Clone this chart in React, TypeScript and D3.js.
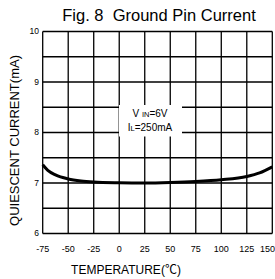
import React from "react";
import * as d3 from "d3";

// temperature (°C) vs quiescent current (mA)
const temps = [-75, -70, -62.5, -50, -37.5, -25, 0, 25, 50, 75, 100, 125, 137.5, 150];
const current = [7.36, 7.25, 7.16, 7.08, 7.04, 7.02, 7.005, 7.0, 7.01, 7.03, 7.065, 7.13, 7.2, 7.32];

const xTicks = [-75, -50, -25, 0, 25, 50, 75, 100, 125, 150];
const yTicks = [6, 7, 8, 9, 10];
const yGrid = [6, 6.5, 7, 7.5, 8, 8.5, 9, 9.5, 10];

const font = "'Liberation Sans', Arial, sans-serif";

function App() {
  const w = 275,
    h = 279,
    margin = { top: 31.5, left: 42.7, right: 2.7, bottom: 45.5 };

  const x = d3.scaleLinear().domain([-75, 150]).range([margin.left, w - margin.right]);
  const y = d3.scaleLinear().domain([6, 10]).range([h - margin.bottom, margin.top]);

  const data = temps.map((t, i) => ({ t, v: current[i] }));
  const line = d3
    .line<{ t: number; v: number }>()
    .x(d => x(d.t))
    .y(d => y(d.v))
    .curve(d3.curveMonotoneX);

  const vLines = xTicks.map((d, i) => (
    <line key={i} x1={x(d)} x2={x(d)} y1={y(6)} y2={y(10)} stroke="#000" strokeWidth={1.3} />
  ));

  const hLines = yGrid.map((d, i) => (
    <line key={i} x1={x(-75)} x2={x(150)} y1={y(d)} y2={y(d)} stroke="#000" strokeWidth={1.3} />
  ));

  const xLabels = xTicks.map((d, i) => {
    const last = i === xTicks.length - 1;
    return (
      <text key={i} x={last ? 275 : x(d)} y={252} textAnchor={last ? "end" : "middle"} fontSize={9}>
        {d}
      </text>
    );
  });

  const yLabels = yTicks.map((d, i) => (
    <text key={i} x={39} y={y(d)} dy="0.35em" textAnchor="end" fontSize={8.5}>
      {d}
    </text>
  ));

  return (
    <svg
      width={w}
      height={h}
      style={{ position: "absolute", left: 0, top: 0, background: "#fff" }}
      fontFamily={font}
    >
      <text x={159} y={21} textAnchor="middle" fontSize={16.5} style={{ whiteSpace: "pre" }}>
        {"Fig. 8  Ground Pin Current"}
      </text>
      {hLines}
      {vLines}
      <rect x={119} y={105} width={63} height={31.5} fill="#fff" />
      <text x={150} y={117} textAnchor="middle" fontSize={10} style={{ whiteSpace: "pre" }}>
        {"V "}<tspan fontSize={7.5}>IN</tspan>=6V
      </text>
      <text x={150} y={131} textAnchor="middle" fontSize={10}>
        I<tspan fontSize={7.5}>L</tspan>=250mA
      </text>
      <path d={line(data) || ""} fill="none" stroke="#000" strokeWidth={3} />
      {xLabels}
      {yLabels}
      <text x={126} y={274} textAnchor="middle" fontSize={12}>
        TEMPERATURE(<tspan fontFamily="'Noto Sans CJK SC'">℃</tspan>)
      </text>
      <text
        transform={`translate(19,${(y(6) + y(10)) / 2 + 8}) rotate(-90)`}
        textAnchor="middle"
        fontSize={13}
      >
        QUIESCENT CURRENT(mA)
      </text>
    </svg>
  );
}

export default App;
